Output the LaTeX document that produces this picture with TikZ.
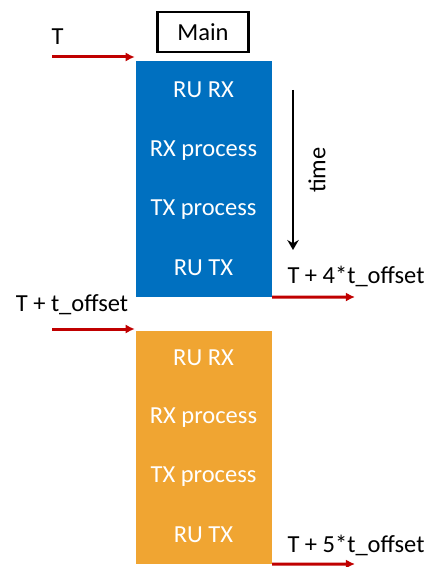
\documentclass[tikz,border=0pt]{standalone}
\usepackage{fontspec}
\setmainfont{Carlito}
\usepackage{xcolor}
\usetikzlibrary{arrows.meta}
\usetikzlibrary{positioning}
\definecolor{mainblue}{RGB}{0,112,192}
\definecolor{mainorange}{RGB}{240,165,50}
\definecolor{arrowred}{RGB}{192,0,0}

\begin{document}
\begin{tikzpicture}[x=1pt,y=-1pt]
\tikzset{>={Latex[width=3.2mm,length=3.2mm]}}
\tikzstyle{block} =[rectangle, inner sep=0pt, minimum width=137pt, draw=white, line width=0.4pt]
\tikzstyle{steptext} =[text=white, font=\fontsize{24.5}{29}\selectfont]
\tikzstyle{lbl} =[font=\fontsize{24.5}{29}\selectfont]
\tikzstyle{redarrow} =[->, arrowred, line width=3pt]
\useasboundingbox (0,0) rectangle (427,567);

% main thread label
\node[draw, line width=2.5pt, minimum width=91pt, minimum height=40pt, lbl](mainlbl) at (203,32){Main};

% the two blocks
\node[block, fill=mainblue, minimum height=237pt](blue) at (203.5,178.5){};
\node[block, fill=mainorange, minimum height=234pt](orange) at (203.5,447){};

\node[steptext](brurx) at (203.5,90){RU RX};
\node[steptext](brxp) at (203.5,151){RX process};
\node[steptext](btxp) at (203.5,210){TX process};
\node[steptext](brutx) at (203.5,268){RU TX};

\node[steptext](orurx) at (203.5,358){RU RX};
\node[steptext](orxp) at (203.5,418){RX process};
\node[steptext](otxp) at (203.5,477){TX process};
\node[steptext](orutx) at (203.5,535){RU TX};

% inputs
\node[lbl, anchor=west](tlbl) at (48,37){T};
\coordinate (tin) at (52,57);
\draw [redarrow] (tin) to (tin -| blue.west);

\node[lbl](tofflbl) at (72,305){T + t\_offset};
\coordinate (toffin) at (52,329);
\draw [redarrow] (toffin) to (toffin -| orange.west);

% outputs
\coordinate (bout) at (355,297);
\draw [redarrow] (blue.south east) to (bout);
\node[lbl](boutlbl) at (356,276){T + 4*t\_offset};

\coordinate (oout) at (355,564);
\draw [redarrow] (orange.south east) to (oout);
\node[lbl](ooutlbl) at (356,545){T + 5*t\_offset};

% time axis
\coordinate (ttop) at (293,90);
\coordinate (tbot) at (293,250);
\draw [-{Stealth[width=4mm,length=3.5mm]}, line width=2.2pt] (ttop) to (tbot);
\node[lbl, rotate=90](timelbl) at (317,170){time};
\end{tikzpicture}
\end{document}
